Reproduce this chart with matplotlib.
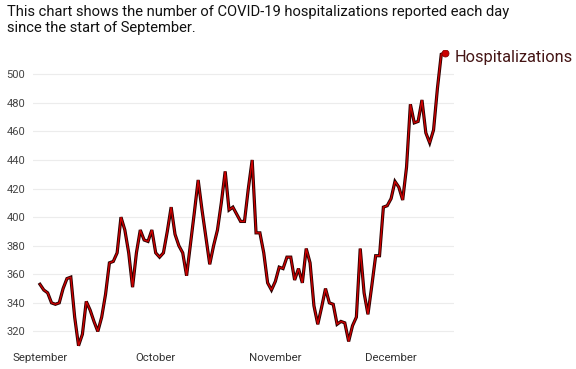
import matplotlib
matplotlib.use("Agg")
import matplotlib.pyplot as plt
import matplotlib.patheffects as pe
import pandas as pd
import numpy as np

plt.rcParams['font.family'] = ['Roboto', 'DejaVu Sans']

start_date = "2020-09-01"
hospitalizations = [
    353, 349, 347, 340, 339, 340, 350, 357, 358, 330,
    310, 318, 341, 335, 327, 320, 330, 346, 368, 369,
    375, 400, 391, 375, 351, 375, 391, 384, 383, 391,
    375, 372, 375, 390, 407, 388, 380, 375, 359, 381,
    403, 426, 405, 386, 367, 380, 391, 410, 432, 405,
    407, 402, 397, 397, 420, 440, 389, 389, 375, 354,
    349, 355, 365, 364, 372, 372, 356, 364, 354, 378,
    368, 338, 325, 337, 350, 340, 339, 325, 327, 326,
    313, 324, 330, 378, 347, 332, 352, 373, 373, 407,
    408, 413, 425, 421, 412, 435, 479, 466, 467, 482,
    459, 452, 461, 490, 514, 515,
]
month_ticks = ["2020-09-01", "2020-10-01", "2020-11-01", "2020-12-01"]
month_labels = ["September", "October", "November", "December"]
y_ticks = [320, 340, 360, 380, 400, 420, 440, 460, 480, 500]
series_name = "Hospitalizations"
title = ("This chart shows the number of COVID-19 hospitalizations reported each day\n"
         "since the start of September.")

dates = pd.date_range(start_date, periods=len(hospitalizations), freq="D")

fig = plt.figure(figsize=(5.76, 3.69), dpi=100)
ax = fig.add_axes([33 / 576, 1 - 350 / 369, (454 - 33) / 576, 300 / 369])

line_color = "#cc0000"
ax.plot(dates, hospitalizations, color=line_color, lw=1.0, solid_joinstyle="miter",
        path_effects=[pe.Stroke(linewidth=2.3, foreground="#2a0000"), pe.Normal()],
        zorder=3)
ax.plot(dates[-1], hospitalizations[-1], "o", color=line_color, ms=5,
        markeredgecolor="#8a0000", markeredgewidth=0.6, zorder=4)
ax.annotate(series_name, xy=(dates[-1], hospitalizations[-1]), xytext=(7, -3.5),
            textcoords="offset points", ha="left", va="center",
            fontsize=11.8, color="#451515")

ax.set_xlim(dates[0] - pd.Timedelta(days=1.8), dates[-1] + pd.Timedelta(days=2.3))
ax.set_ylim(307, 517)

ax.set_yticks(y_ticks)
ax.set_yticklabels([str(v) for v in y_ticks])
for lbl in ax.get_yticklabels():
    lbl.set_horizontalalignment("left")
ax.tick_params(axis="y", length=0, pad=19, labelsize=8, labelcolor="#444444")

ax.set_xticks(pd.to_datetime(month_ticks))
ax.set_xticklabels(month_labels)
ax.tick_params(axis="x", length=0, pad=2, labelsize=8.2, labelcolor="#333333")

ax.grid(axis="y", color="#ececec", lw=0.8)
ax.set_axisbelow(True)
for s in ax.spines.values():
    s.set_visible(False)

fig.text(7 / 576, 1 - 5 / 369, title, ha="left", va="top", fontsize=10.6,
         color="#111111", linespacing=1.15)

fig.savefig("out.png", dpi=100)
